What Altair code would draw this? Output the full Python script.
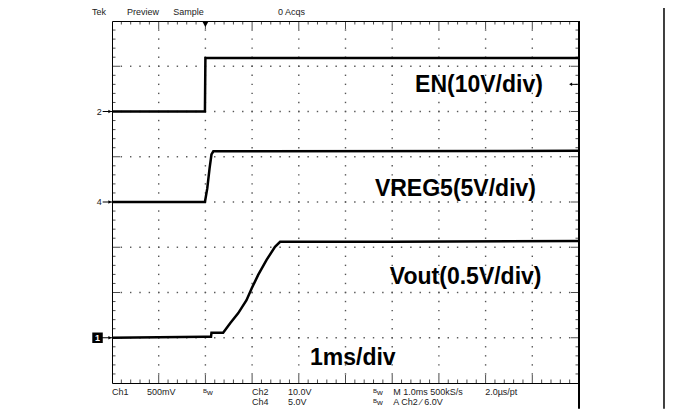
import altair as alt
import pandas as pd
import numpy as np

# ---- data (screen divisions: x 0..10 at 1 ms/div, y 0..8) ----
en_t = [0.0, 1.99, 2.0, 10.0]
en_v = [6.0, 6.0, 7.18, 7.18]

vreg_t = [0.0, 1.99, 2.04, 2.09, 2.13, 2.17, 10.0]
vreg_v = [4.0, 4.0, 4.3, 4.75, 5.05, 5.12, 5.13]

vout_t = [0.0, 1.99, 2.12, 2.13, 2.38, 2.53, 2.70, 2.88, 2.99, 3.13, 3.31, 3.49, 3.60, 6.0, 10.0]
vout_v = [1.0, 1.02, 1.02, 1.11, 1.11, 1.32, 1.54, 1.83, 2.09, 2.39, 2.72, 3.01, 3.12, 3.12, 3.14]

labels = ["EN(10V/div)", "VREG5(5V/div)", "Vout(0.5V/div)", "1ms/div"]
label_t = [6.49, 5.63, 5.95, 4.24]
label_v = [6.44, 4.13, 2.19, 0.40]

top_texts = ["Tek", "Preview", "Sample", "0 Acqs"]
top_t = [-0.43, 0.32, 1.31, 3.555]
top_v = [8.13, 8.13, 8.13, 8.13]

bot_texts = ["Ch1", "500mV", "Ch2", "10.0V", "M 1.0ms 500kS/s", "2.0\u00b5s/pt",
             "Ch4", "5.0V", "A  Ch2  \u2044  6.0V"]
bot_t = [0.0, 0.75, 3.0, 3.77, 6.02, 7.99, 3.0, 3.77, 6.02]
bot_v = [-0.265, -0.265, -0.265, -0.265, -0.265, -0.265, -0.486, -0.486, -0.486]

bw_t = [1.95, 5.59, 5.59]
bw_v = [-0.265, -0.265, -0.486]

ref_labels = ["2", "4"]
ref_v = [6.0, 4.0]

W, H = 467, 362
xs = alt.Scale(domain=[0, 10], nice=False, zero=False)
ys = alt.Scale(domain=[0, 8], nice=False, zero=False)
X = lambda f="t": alt.X(f"{f}:Q", scale=xs, axis=None)
Y = lambda f="v": alt.Y(f"{f}:Q", scale=ys, axis=None)

# grid dots
dots = []
for k in range(1, 10):
    for v in np.arange(0.2, 8.0, 0.2):
        dots.append((k, round(v, 2)))
for j in range(1, 8):
    for t in np.arange(0.2, 10.0, 0.2):
        dots.append((round(t, 2), j))
grid_df = pd.DataFrame(dots, columns=["t", "v"])
grid = alt.Chart(grid_df).mark_square(size=2, color="#555", opacity=1).encode(x=X(), y=Y())

# border ticks
minor_x = [round(t, 2) for t in np.arange(0.2, 10.0, 0.2) if abs(t - round(t)) > 1e-6]
major_x = list(range(1, 10))
minor_y = [round(v, 2) for v in np.arange(0.2, 8.0, 0.2) if abs(v - round(v)) > 1e-6]
major_y = list(range(1, 8))

def vticks(ts, size):
    df = pd.DataFrame([(t, e) for t in ts for e in (0, 8)], columns=["t", "v"])
    return alt.Chart(df).mark_tick(orient="vertical", size=size, thickness=1,
                                   color="black", clip=True).encode(x=X(), y=Y())

def hticks(vs, size):
    df = pd.DataFrame([(e, v) for v in vs for e in (0, 10)], columns=["t", "v"])
    return alt.Chart(df).mark_tick(orient="horizontal", size=size, thickness=1,
                                   color="black", clip=True).encode(x=X(), y=Y())

ticks = [vticks(minor_x, 7), vticks(major_x, 16), hticks(minor_y, 7), hticks(major_y, 16)]

# traces
tr = pd.concat([
    pd.DataFrame({"t": en_t, "v": en_v, "s": "EN"}),
    pd.DataFrame({"t": vreg_t, "v": vreg_v, "s": "VREG5"}),
    pd.DataFrame({"t": vout_t, "v": vout_v, "s": "Vout"}),
])
traces = alt.Chart(tr).mark_line(color="black", strokeWidth=2.5).encode(
    x=X(), y=Y(), detail="s:N")

big = alt.Chart(pd.DataFrame({"t": label_t, "v": label_v, "s": labels})).mark_text(
    font="Liberation Sans", fontSize=23, fontWeight="bold", align="left",
    baseline="alphabetic", color="black").encode(x=X(), y=Y(), text="s:N")

small_style = dict(font="Liberation Sans", fontSize=9, align="left",
                   baseline="alphabetic", color="#222")
top = alt.Chart(pd.DataFrame({"t": top_t, "v": top_v, "s": top_texts})).mark_text(
    **small_style).encode(x=X(), y=Y(), text="s:N")
bot = alt.Chart(pd.DataFrame({"t": bot_t, "v": bot_v, "s": bot_texts})).mark_text(
    **small_style).encode(x=X(), y=Y(), text="s:N")
bw_df = pd.DataFrame({"t": bw_t, "v": bw_v})
bw_b = alt.Chart(bw_df).mark_text(font="Liberation Sans", fontSize=6, align="left",
                                  baseline="alphabetic", color="#222", dy=-2).encode(
    x=X(), y=Y(), text=alt.value("B"))
bw_w = alt.Chart(bw_df).mark_text(font="Liberation Sans", fontSize=8, align="left",
                                  baseline="alphabetic", color="#222", dx=4).encode(
    x=X(), y=Y(), text=alt.value("w"))

# channel reference markers on the left
ref_df = pd.DataFrame({"t": [-0.2] * 2, "t2": [0.0] * 2, "v": ref_v, "s": ref_labels})
ref_txt = alt.Chart(ref_df).mark_text(font="Liberation Sans", fontSize=9, align="right",
                                      baseline="middle", color="#222", dx=-1).encode(
    x=X(), y=Y(), text="s:N")
ch1_df = pd.DataFrame({"t": [-0.2, -0.2], "t2": [0.0, 0.0], "v": [6.0, 4.0]})
ch1_box_df = pd.DataFrame({"t": [-0.31], "t2": [0.0], "v": [1.0]})
arrows_df = pd.concat([ch1_df, ch1_box_df])
arrow_lines = alt.Chart(arrows_df).mark_rule(color="black", strokeWidth=1).encode(
    x=X(), x2="t2:Q", y=Y())
arrow_heads = alt.Chart(arrows_df).mark_point(shape="triangle-right", filled=True,
                                              size=14, color="black", opacity=1, xOffset=-2).encode(
    x=X("t2"), y=Y())
ch1_box = alt.Chart(ch1_box_df).mark_square(size=110, color="black", opacity=1).encode(
    x=X(), y=Y())
ch1_txt = alt.Chart(ch1_box_df).mark_text(font="Liberation Sans", fontSize=9, fontWeight="bold",
                                          color="white", baseline="middle").encode(
    x=X(), y=Y(), text=alt.value("1"))

# EN right-side marker and trigger marker
en_mark_df = pd.DataFrame({"t": [9.82], "t2": [9.97], "v": [6.44 + 0.16]})
en_mark = alt.Chart(en_mark_df).mark_rule(color="black", strokeWidth=1).encode(
    x=X(), x2="t2:Q", y=Y())
en_head = alt.Chart(en_mark_df).mark_point(shape="triangle-left", filled=True, size=12,
                                           color="black", opacity=1).encode(x=X(), y=Y())
trig = alt.Chart(pd.DataFrame({"t": [2.0], "v": [8.0]})).mark_point(
    shape="triangle-down", filled=True, size=45, color="black", opacity=1, yOffset=3).encode(
    x=X(), y=Y())

# frame lines (right edge of the scope area and the outer page frame)
frame_df = pd.DataFrame({"t": [10.0, 11.82], "v": [8.0, 8.29], "v2": [-0.57, -0.57],
                         "w": [2.0, 1.5]})
frame = alt.Chart(frame_df).mark_rule(color="black").encode(
    x=X(), y=Y(), y2="v2:Q", strokeWidth=alt.StrokeWidth("w:Q", scale=None, legend=None))

chart = alt.layer(
    grid, *ticks, traces, big, top, bot, bw_b, bw_w, ref_txt, arrow_lines, arrow_heads,
    ch1_box, ch1_txt, en_mark, en_head, trig, frame
).properties(
    width=W, height=H,
    padding={"left": 104, "top": 13, "right": 86, "bottom": 26},
    autosize=alt.AutoSizeParams(type="none"),
    background="white",
).configure_view(stroke="black", strokeWidth=1)

chart.save("out.html", embed_options={"renderer": "svg", "actions": False})
